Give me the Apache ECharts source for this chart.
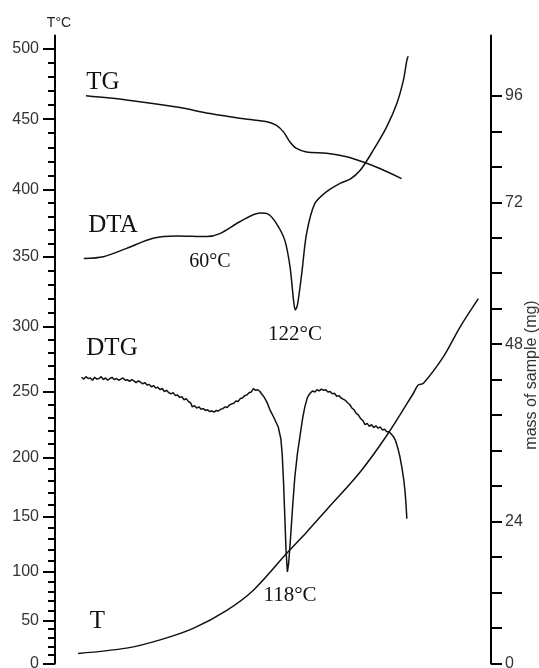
<!DOCTYPE html>
<html>
<head>
<meta charset="utf-8">
<script src="https://cdn.jsdelivr.net/npm/echarts@6/dist/echarts.min.js"></script>
<style>
  html, body { margin: 0; padding: 0; background: #fff; }
  #chart { width: 539px; height: 668px; }
</style>
</head>
<body>
<div id="chart"></div>
<script>
// all curves share one linear vertical scale: the mass scale (mg) of the right axis
const yMax = 106.2;

// left axis: temperature labels and where each one sits on the shared scale (the T axis is not linear)
const tempTicks = [0, 50, 100, 150, 200, 250, 300, 350, 400, 450, 500];
const tempTickPos = [0, 7.24, 15.52, 24.82, 34.86, 45.95, 56.94, 68.77, 80.17, 92.05, 104.0];

// right axis: tick marks every 6 mg, labels as printed on the original
const massTicks = [0, 6, 12, 18, 24, 30, 36, 42, 48, 54, 60, 66, 72, 78, 84, 90, 96];
const massLabels = ['0', '24', '48', '72', '96'];
const massLabelPos = [0, 24, 54, 78, 96];

// curves: [time (% of run), value on shared scale]
const tg = [
  [7.1, 96.0], [16.4, 95.3], [27.9, 94.1], [35.6, 93.0], [42.4, 92.2], [48.6, 91.6],
  [50.8, 91.0], [52.4, 89.9], [53.9, 88.2], [55.4, 87.1], [57.7, 86.5], [62.3, 86.3],
  [66.9, 85.7], [70.7, 84.8], [74.5, 83.7], [79.5, 82.0]
];
const dta = [
  [6.6, 68.5], [11.1, 68.8], [16.4, 70.2], [22.5, 71.9], [27.9, 72.3], [34.8, 72.2],
  [37.8, 72.7], [42.4, 74.7], [47.0, 76.2], [48.9, 76.0], [50.8, 74.4], [52.7, 71.6],
  [53.9, 67.1], [54.7, 61.5], [55.1, 59.8], [55.6, 60.6], [56.6, 66.0], [57.7, 72.7],
  [59.6, 77.8], [62.3, 79.8], [65.4, 81.2], [67.7, 81.9], [70.0, 83.4], [73.0, 86.8],
  [76.1, 90.8], [78.4, 94.7], [79.9, 98.6], [80.7, 102.0], [81.0, 102.7]
];
const dtg = [
  [6.1, 48.4], [6.6, 48.1], [7.1, 48.5], [7.6, 48.2], [8.1, 48.3], [8.6, 47.9], [9.1, 48.4],
  [9.6, 48.1], [10.1, 48.2], [10.6, 48.5], [11.1, 48.0], [11.6, 48.3], [12.1, 47.9], [12.6, 48.2],
  [13.1, 48.4], [13.6, 48.0], [14.1, 48.2], [14.6, 47.9], [15.1, 48.1], [15.6, 48.3], [16.1, 47.9],
  [16.6, 48.0], [17.1, 47.7], [17.6, 48.0], [18.1, 47.8], [18.6, 47.5], [19.1, 47.8], [19.6, 47.6],
  [20.1, 47.3], [20.6, 47.5], [21.1, 47.1], [21.6, 47.2], [22.1, 46.8], [22.6, 47.0], [23.1, 46.6],
  [23.6, 46.7], [24.1, 46.3], [24.6, 46.5], [25.1, 46.0], [25.6, 46.2], [26.1, 45.8], [26.6, 45.6],
  [27.1, 45.8], [27.6, 45.3], [28.1, 45.4], [28.6, 45.0], [29.1, 45.1], [29.6, 44.6], [30.1, 44.8],
  [30.6, 44.3], [31.1, 44.1], [31.5, 43.4], [32.0, 43.6], [32.5, 43.2], [33.0, 43.4], [33.5, 43.0],
  [34.0, 43.1], [34.5, 42.8], [35.0, 42.9], [35.5, 42.6], [36.0, 42.7], [36.5, 42.5], [37.0, 42.8],
  [37.5, 42.7], [38.0, 43.0], [38.5, 43.1], [39.0, 43.4], [39.5, 43.3], [40.0, 43.7], [40.5, 43.9],
  [41.0, 44.0], [41.5, 44.4], [42.0, 44.3], [42.5, 44.8], [43.0, 44.9], [43.5, 45.3], [44.0, 45.4],
  [44.5, 45.8], [45.0, 45.9], [45.5, 46.5], [46.0, 46.2], [46.5, 46.3], [47.0, 46.0], [47.5, 45.5],
  [48.0, 45.0], [48.6, 44.2], [49.3, 42.9], [50.2, 41.6], [51.2, 40.0], [51.8, 38.0], [52.1, 35.5],
  [52.4, 31.0], [52.7, 25.0], [53.0, 19.0], [53.3, 15.5], [53.6, 17.0], [54.0, 21.0], [54.5, 26.5],
  [55.0, 31.5], [55.6, 35.5], [56.2, 38.5], [56.8, 41.5], [57.3, 43.4], [57.9, 45.0], [58.5, 45.7],
  [59.1, 46.1], [59.6, 45.9], [60.1, 46.3], [60.6, 46.1], [61.1, 46.4], [61.6, 46.2], [62.1, 46.3],
  [62.6, 45.9], [63.1, 46.0], [63.6, 45.6], [64.1, 45.7], [64.6, 45.2], [65.1, 45.3], [65.6, 44.9],
  [66.1, 44.7], [66.6, 44.5], [67.1, 44.1], [67.6, 43.8], [68.1, 43.2], [68.6, 42.9], [69.1, 42.3],
  [69.6, 42.0], [70.1, 41.4], [70.6, 41.1], [71.1, 40.4], [71.6, 40.6], [72.1, 40.1], [72.6, 40.4],
  [73.1, 39.9], [73.6, 40.2], [74.1, 39.8], [74.6, 40.0], [75.1, 39.5], [75.6, 39.6], [76.1, 39.2],
  [76.6, 39.2], [77.1, 38.8], [77.6, 38.4], [78.1, 37.7], [78.6, 36.5], [79.1, 35.0], [79.6, 33.0],
  [80.0, 31.0], [80.3, 29.0], [80.5, 27.0], [80.7, 24.5]
];
const tCurve = [
  [5.3, 1.7], [16.4, 2.6], [24.1, 4.0], [31.7, 5.95], [39.4, 9.0], [45.5, 12.4], [53.1, 18.6],
  [57.7, 22.2], [62.3, 26.0], [70.0, 32.4], [76.4, 38.9], [82.2, 45.7], [83.3, 47.1], [84.5, 47.4],
  [89.1, 51.9], [92.9, 56.9], [97.1, 61.7]
];

// minor T ticks every 10 degC, spaced evenly inside each 50 degC step
const tempMinorPos = [];
for (let i = 0; i < tempTickPos.length - 1; i++) {
  for (let k = 1; k < 5; k++) {
    tempMinorPos.push(tempTickPos[i] + (tempTickPos[i + 1] - tempTickPos[i]) * k / 5);
  }
}

const ink = '#111';
const lineSeries = (name, data, smooth) => ({
  name: name,
  type: 'line',
  data: data,
  symbol: 'none',
  smooth: smooth,
  lineStyle: { color: ink, width: 1.5 },
  silent: true
});

const serif = '"Liberation Serif", "Times New Roman", serif';
const label = (text, x, y, size) => ({
  type: 'text', x: x, y: y,
  style: {
    text: text, fill: ink, fontSize: size, fontFamily: serif,
    textAlign: 'center', textVerticalAlign: 'middle', align: 'center', verticalAlign: 'middle'
  }
});

const chart = echarts.init(document.getElementById('chart'));
chart.setOption({
  animation: false,
  backgroundColor: '#fff',
  grid: { left: 55, right: 48, top: 35.5, bottom: 4.5, containLabel: false, outerBoundsMode: 'none' },
  xAxis: { type: 'value', min: 0, max: 100, show: false },
  yAxis: [
    {
      type: 'value', position: 'left', min: 0, max: yMax,
      name: 'T°C', nameLocation: 'end', nameGap: 5,
      nameTextStyle: { color: '#222', fontSize: 14, fontFamily: '"Liberation Sans", Arial', padding: [0, 0, 0, 8] },
      axisLine: { show: true, lineStyle: { color: '#000', width: 2 } },
      axisTick: { show: true, length: 12, customValues: tempTickPos, lineStyle: { color: '#000', width: 2 } },
      axisLabel: {
        show: true, customValues: tempTickPos, margin: 16,
        color: '#333', fontSize: 16, fontFamily: '"Liberation Sans", Arial',
        formatter: v => String(tempTicks[tempTickPos.indexOf(v)])
      },
      splitLine: { show: false }
    },
    {
      type: 'value', position: 'left', min: 0, max: yMax,
      axisLine: { show: false },
      axisTick: { show: true, length: 7, customValues: tempMinorPos, lineStyle: { color: '#000', width: 2 } },
      axisLabel: { show: false },
      splitLine: { show: false }
    },
    {
      type: 'value', position: 'right', min: 0, max: yMax,
      axisLine: { show: true, lineStyle: { color: '#000', width: 2 } },
      axisTick: { show: true, length: 11, customValues: massTicks, lineStyle: { color: '#000', width: 2 } },
      axisLabel: {
        show: true, customValues: massLabelPos, margin: 14,
        color: '#333', fontSize: 16, fontFamily: '"Liberation Sans", Arial',
        formatter: v => massLabels[massLabelPos.indexOf(v)]
      },
      splitLine: { show: false }
    }
  ],
  series: [
    lineSeries('TG', tg, 0.3),
    lineSeries('DTA', dta, 0.3),
    lineSeries('DTG', dtg, false),
    lineSeries('T', tCurve, 0.3)
  ],
  graphic: [
    label('TG', 103, 82, 25),
    label('DTA', 113, 225, 25),
    label('60°C', 210, 261.5, 20),
    label('122°C', 295, 334, 21),
    label('DTG', 112, 348.5, 25),
    label('118°C', 290, 595, 21),
    label('T', 97.5, 621.5, 25),
    {
      type: 'text', x: 532, y: 375, rotation: Math.PI / 2,
      style: {
        text: 'mass of sample (mg)', fill: '#333', fontSize: 16, fontFamily: '"Liberation Sans", Arial',
        textAlign: 'center', textVerticalAlign: 'middle', align: 'center', verticalAlign: 'middle'
      }
    }
  ]
});
</script>
</body>
</html>
